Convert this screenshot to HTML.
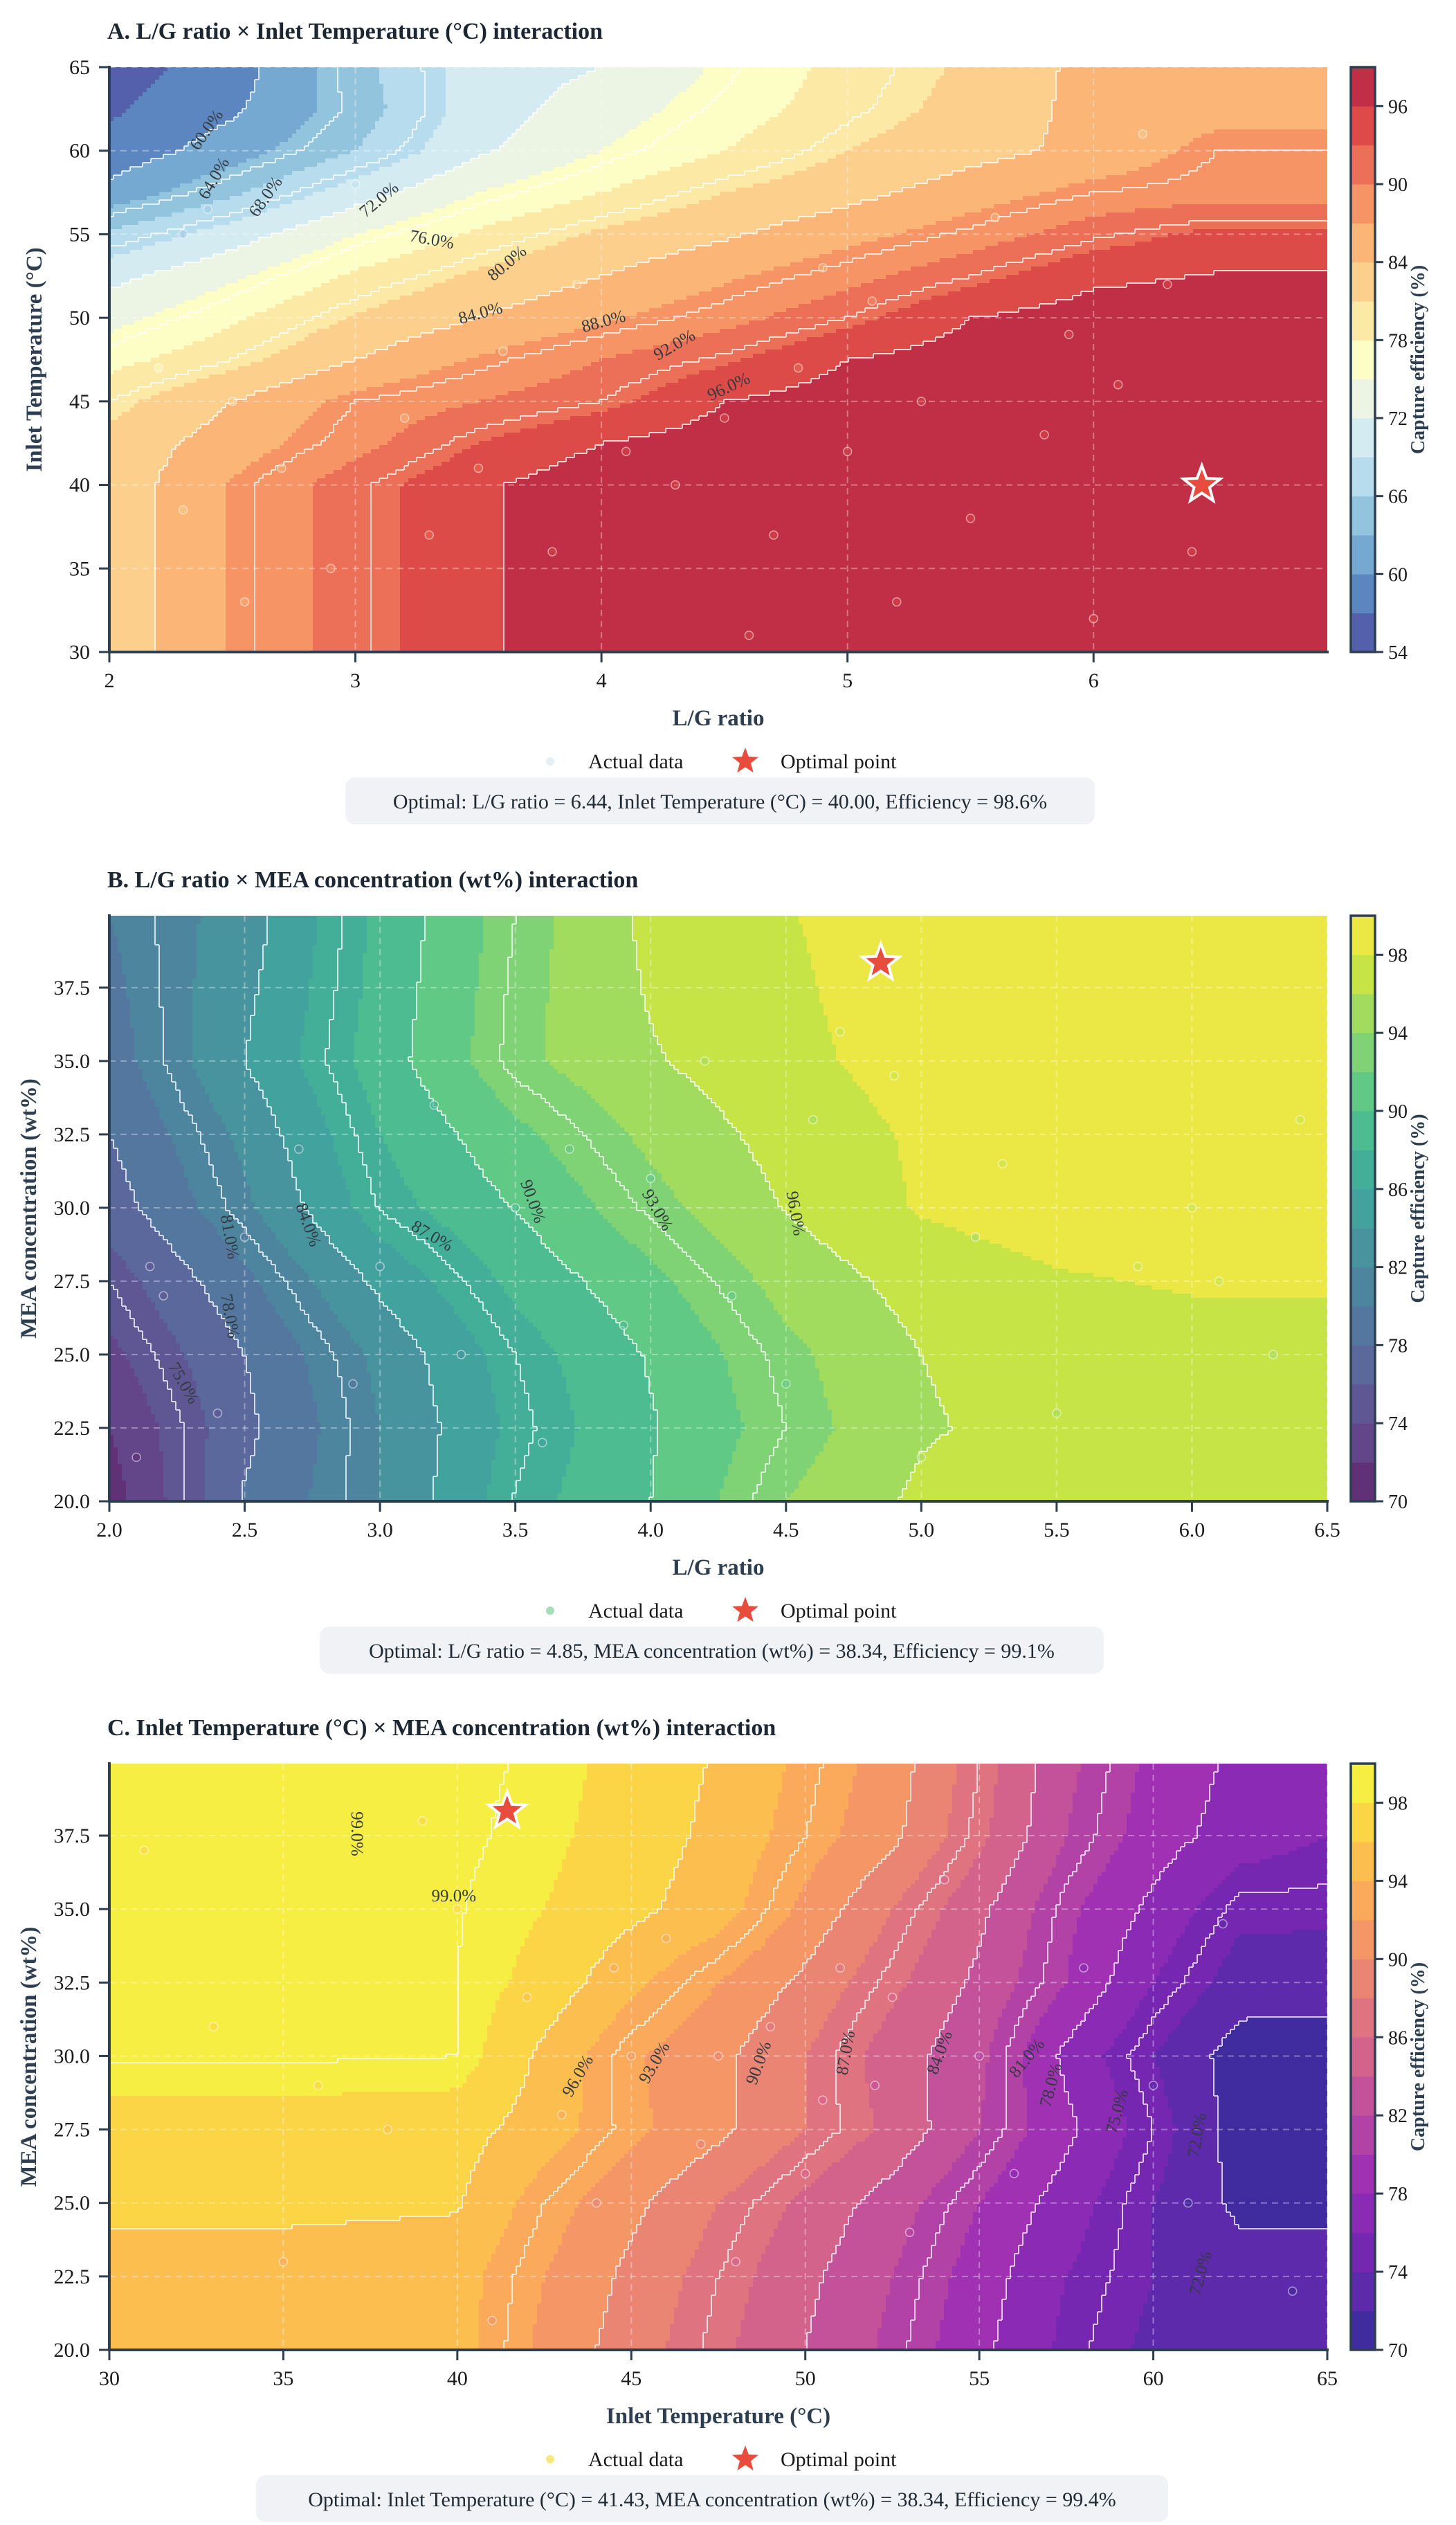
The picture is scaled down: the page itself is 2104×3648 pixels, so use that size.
<!DOCTYPE html>
<html><head><meta charset="utf-8"><title>Capture efficiency interactions</title>
<style>
html,body{margin:0;padding:0;background:#fff;}
svg{display:block;font-family:"Liberation Serif","DejaVu Serif",serif;}
</style></head>
<body>
<svg id="chart" xmlns="http://www.w3.org/2000/svg" width="2104" height="3648" viewBox="0 0 2104 3648"></svg>
<script>
// ---------- Panel A data: L/G ratio x Inlet Temperature ----------
const aX=[2,2.5,3,3.5,4,4.5,5,5.5,6,6.5,6.95];
const aY=[30,40,42.5,45,47.5,50,52.5,55,57.5,60,62.5,65];
const aZ=[
[82,87.3,91.5,95.5,98,98.5,98.6,98.6,98.6,98.6,98.6],
[82,87.3,91.5,95.5,98,98.5,98.6,98.6,98.6,98.6,98.6],
[82,85.5,89,93,96,97.5,98.3,98.6,98.6,98.6,98.6],
[80,84,88,90,92,96,97.5,98.3,98.6,98.6,98.6],
[77,80,84,87.3,90,92.5,96,97.5,98.2,98.6,98.6],
[74,77.5,81.3,84,86.5,89,92,96,97.5,98.2,98.4],
[71,74.5,78.5,81.5,84,86.5,89,92,95.3,96.2,96.3],
[66.5,70.5,75,78.5,81.5,83.6,86,88.5,91.5,93.8,93.8],
[61,65.5,70.5,75,78,81,83,85.5,88,88.8,88.8],
[58,61.5,66,71.5,75,78,81,83,84.8,88,88],
[56.5,59.5,64.5,70.5,73.5,76.5,79.5,82,85,86,86],
[55.5,58.5,65,70.5,72,75.5,79,81.5,85,85.5,85.5]];
const aXTicks=[2,3,4,5,6];
const aYTicks=[30,35,40,45,50,55,60,65];
const aCbTicks=[54,60,66,72,78,84,90,96];
const aOpt=[6.44,40.00];
const aPtX=[2.3,2.4,2.2,2.5,2.7,2.3,2.55,3.3,3.2,3.6,3.9,4.1,4.5,4.7,5.0,5.3,5.5,5.8,6.1,6.3,6.4,5.2,4.3,3.8,6.0,4.9,5.6,6.2,3.0,4.6,5.9,4.8,3.5,2.9,5.1];
const aPtY=[55,56.5,47,45,41,38.5,33,37,44,48,52,42,44,37,42,45,38,43,46,52,36,33,40,36,32,53,56,61,58,31,49,47,41,35,51];
const aLabVal=['60.0%','64.0%','68.0%','72.0%','76.0%','80.0%','84.0%','88.0%','92.0%','96.0%'];
const aLabX=[2.4,2.43,2.64,3.1,3.31,3.62,3.51,4.01,4.3,4.52];
const aLabY=[61.2,58.3,57.2,57,54.6,53.2,50.2,49.7,48.3,45.8];
const aLabR=[-55,-60,-55,-40,10,-40,-15,-15,-30,-25];
const aBand=['#5560ad','#5b86bf','#76a9d1','#93c4de','#b7dced','#d4ebf2','#ecf5e4','#fdfdc6','#fde9a6','#fcd08c','#fbb577','#f69466','#ec7057','#dc4b47','#c02f45'];

// ---------- Panel B data: L/G ratio x MEA concentration ----------
const bX=[2,2.5,3,3.5,4,4.5,5,5.5,6,6.5];
const bY=[20,22.5,25,27.5,30,32.5,35,37.5,39.95];
const bZ=[
[71,78.2,82,87.1,90,94,96.4,96.9,97.2,97.2],
[72,77.5,82,86.5,89.8,93,95.8,96.7,97,97],
[73.5,78,82.5,87,90.2,93.5,96,97,97.2,97.2],
[75,79.5,84.5,88.5,91.5,94.7,96.8,97.8,98.2,98.2],
[77,81.6,87.1,90.1,93.3,96.1,98.2,99,99,99],
[78,82.5,88,91.5,94.5,96.8,98.3,99,99,99],
[79,84,89,93.5,95.8,97.5,98.8,99.2,99.2,99.2],
[79.5,83.5,88.7,93.3,96.2,97.7,99,99.2,99.2,99.2],
[80,83,88.5,93,96.5,97.9,99,99.2,99.2,99.2]];
const bXTicks=[2.0,2.5,3.0,3.5,4.0,4.5,5.0,5.5,6.0,6.5];
const bYTicks=[20,22.5,25,27.5,30,32.5,35,37.5];
const bCbTicks=[70,74,78,82,86,90,94,98];
const bOpt=[4.85,38.34];
const bPtX=[2.2,2.5,2.7,3.0,3.3,3.5,3.6,4.0,4.3,4.6,4.9,5.2,5.8,6.0,6.3,5.0,4.2,2.4,2.9,3.2,5.5,6.4,4.5,3.9,2.1,2.15,3.7,4.7,5.3,6.1];
const bPtY=[27,29,32,28,25,30,22,31,27,33,34.5,29,28,30,25,21.5,35,23,24,33.5,23,33,24,26,21.5,28,32,36,31.5,27.5];
const bLabVal=['75.0%','78.0%','81.0%','84.0%','87.0%','90.0%','93.0%','96.0%'];
const bLabX=[2.27,2.44,2.44,2.73,3.19,3.56,4.02,4.53];
const bLabY=[24.0,26.3,29.0,29.4,29.0,30.2,29.9,29.8];
const bLabR=[60,80,80,70,30,70,60,80];

// ---------- Panel C data: Inlet Temperature x MEA concentration ----------
const cX=[30,35,40,42.5,45,47.5,50,52.5,55,57.5,60,62.5,65];
const cY=[20,22.5,25,27.5,30,32.5,35,37.5,39.95];
const cZ=[
[95,95,94.8,91.5,89,86.5,84,81.5,78.5,75.5,73.5,72.8,72.8],
[95,95,94.8,92,89.5,87,84.5,82,79,76,74,73,73],
[96.5,96.5,96.2,93,90.5,88,85.5,83,80,77,74,71.5,71.5],
[97,97,96.8,95,92.5,90.5,88,85.5,82,78.5,75,71,71],
[99.2,99.2,99,95.5,92.3,90.5,88,85,82.5,77.5,74,71,71],
[99.2,99.2,99,97.3,94.5,92,89.5,86.5,83.5,80,76,73,72.8],
[99.3,99.3,99.1,98,96.5,95,91.5,88,84.5,80.5,77.5,74.5,74.5],
[99.6,99.5,99.3,98.5,97,95.5,93,90.5,86.5,82,79,77,76],
[99.6,99.5,99.3,98.8,97.2,95.8,93.5,91,87,82.5,79.5,77.5,76.5]];
const cXTicks=[30,35,40,45,50,55,60,65];
const cYTicks=[20,22.5,25,27.5,30,32.5,35,37.5];
const cCbTicks=[70,74,78,82,86,90,94,98];
const cOpt=[41.43,38.34];
const cPtX=[31,33,36,38,40,42,43,44,45,46,47,48,49,50,51,52,53,55,56,58,60,62,61,64,35,41,54,44.5,47.5,50.5,39,52.5];
const cPtY=[37,31,29,27.5,35,32,28,25,30,34,27,23,31,26,33,29,24,30,26,33,29,34.5,25,22,23,21,36,33,30,28.5,38,32];
const cLabVal=['99.0%','99.0%','96.0%','93.0%','90.0%','87.0%','84.0%','81.0%','78.0%','75.0%','72.0%','72.0%'];
const cLabX=[37.07,39.9,43.5,45.7,48.7,51.2,53.9,56.4,57.1,59.0,61.3,61.4];
const cLabY=[37.56,35.4,29.3,29.75,29.75,30.1,30.1,29.9,29.0,28.1,27.3,22.6];
const cLabR=[90,0,-60,-60,-70,-80,-70,-50,-75,-75,-80,-75];

// ---------- colormap stops (style) ----------
const viridisStops=['#440154','#482475','#414487','#355f8d','#2a788e','#21918c','#22a884','#44bf70','#7ad151','#bddf26','#fde725'];
const plasmaStops=['#0d0887','#41049d','#6a00a8','#8f0da4','#b12a90','#cc4778','#e16462','#f2844b','#fca636','#fcce25','#f0f921'];

const NS='http://www.w3.org/2000/svg';
const svg=document.getElementById('chart');
function mk(tag,attrs,parent){const e=document.createElementNS(NS,tag);for(const k in attrs)e.setAttribute(k,attrs[k]);(parent||svg).appendChild(e);return e;}
function hex(h){return [parseInt(h.slice(1,3),16),parseInt(h.slice(3,5),16),parseInt(h.slice(5,7),16)];}
function cmap(stops,t,alpha){t=Math.max(0,Math.min(1,t));const n=stops.length-1;let i=Math.min(n-1,Math.floor(t*n));const f=t*n-i;const a=hex(stops[i]),b=hex(stops[i+1]);
  const c=a.map((v,k)=>v+(b[k]-v)*f).map(v=>Math.round(v*alpha+255*(1-alpha)));return 'rgb('+c.join(',')+')';}
function idx(arr,v){let i=0;while(i<arr.length-2&&v>arr[i+1])i++;return i;}
function interp(X,Y,Z,x,y){const i=idx(X,x),j=idx(Y,y);let tx=(x-X[i])/(X[i+1]-X[i]),ty=(y-Y[j])/(Y[j+1]-Y[j]);
  tx=Math.max(0,Math.min(1,tx));ty=Math.max(0,Math.min(1,ty));
  return Z[j][i]*(1-tx)*(1-ty)+Z[j][i+1]*tx*(1-ty)+Z[j+1][i]*(1-tx)*ty+Z[j+1][i+1]*tx*ty;}
function starPath(cx,cy,R){const r=R*0.42;let d='';for(let k=0;k<10;k++){const ang=-Math.PI/2+k*Math.PI/5;const rr=k%2?r:R;d+=(k?'L':'M')+(cx+rr*Math.cos(ang)).toFixed(1)+' '+(cy+rr*Math.sin(ang)).toFixed(1);}return d+'Z';}

const L=158,R=1918,CBX=1952,CBW=35;
const panels=[
 {id:'a',X:aX,Y:aY,Z:aZ,xmin:2,xmax:6.95,ymin:30,ymax:65,top:97,bottom:942,xt:aXTicks,yt:aYTicks,xfmt:v=>String(v),yfmt:v=>String(v),
  f0:54,fstep:3,nb:15,colors:aBand,l0:60,lstep:4,lmax:96,cbt:aCbTicks,opt:aOpt,px:aPtX,py:aPtY,lv:aLabVal,lx:aLabX,ly:aLabY,lr:aLabR,
  title:'A. L/G ratio × Inlet Temperature (°C) interaction',xl:'L/G ratio',yl:'Inlet Temperature (°C)',
  info:'Optimal: L/G ratio = 6.44, Inlet Temperature (°C) = 40.00, Efficiency = 98.6%',bx:499,bw:1083,leg:'#dcebf2',ptAlpha:0.45},
 {id:'b',X:bX,Y:bY,Z:bZ,xmin:2,xmax:6.5,ymin:20,ymax:39.95,top:1323,bottom:2169,xt:bXTicks,yt:bYTicks,xfmt:v=>v.toFixed(1),yfmt:v=>v.toFixed(1),
  f0:70,fstep:2,nb:15,stops:viridisStops,l0:75,lstep:3,lmax:96,cbt:bCbTicks,opt:bOpt,px:bPtX,py:bPtY,lv:bLabVal,lx:bLabX,ly:bLabY,lr:bLabR,
  title:'B. L/G ratio × MEA concentration (wt%) interaction',xl:'L/G ratio',yl:'MEA concentration (wt%)',
  info:'Optimal: L/G ratio = 4.85, MEA concentration (wt%) = 38.34, Efficiency = 99.1%',bx:462,bw:1133,leg:'#8fd6a6',ptAlpha:0.6},
 {id:'c',X:cX,Y:cY,Z:cZ,xmin:30,xmax:65,ymin:20,ymax:39.95,top:2548,bottom:3395,xt:cXTicks,yt:cYTicks,xfmt:v=>String(v),yfmt:v=>v.toFixed(1),
  f0:70,fstep:2,nb:15,stops:plasmaStops,l0:72,lstep:3,lmax:99,cbt:cCbTicks,opt:cOpt,px:cPtX,py:cPtY,lv:cLabVal,lx:cLabX,ly:cLabY,lr:cLabR,
  title:'C. Inlet Temperature (°C) × MEA concentration (wt%) interaction',xl:'Inlet Temperature (°C)',yl:'MEA concentration (wt%)',
  info:'Optimal: Inlet Temperature (°C) = 41.43, MEA concentration (wt%) = 38.34, Efficiency = 99.4%',bx:370,bw:1318,leg:'#f4e35a',ptAlpha:0.6}
];

panels.forEach(p=>{
  const T=p.top,B=p.bottom,W=R-L,H=B-T;
  const sx=v=>L+(v-p.xmin)/(p.xmax-p.xmin)*W;
  const sy=v=>B-(v-p.ymin)/(p.ymax-p.ymin)*H;
  const bandColor=k=>p.colors?p.colors[k]:cmap(p.stops,(k+0.5)/p.nb,0.85);
  const fmax=p.f0+p.fstep*p.nb;
  const g=mk('g',{});
  
  
  const title=mk('text',{x:L-3,y:T-41,'font-size':34,'font-weight':'bold',fill:'#1c2733'},g);
  
  
  title.textContent=p.title;
  const defs=mk('defs',{},g);
  const cp=mk('clipPath',{id:'clip-'+p.id},defs);
  mk('rect',{x:L,y:T,width:W,height:H},cp);
  const plot=mk('g',{'clip-path':'url(#clip-'+p.id+')'},g);
  
  
  const cs=6,cols=Math.ceil(W/cs),rows=Math.ceil(H/cs);
  const band=[],cls=[];
  for(let r=0;r<rows;r++){band.push([]);cls.push([]);
    const yv=p.ymax-(r+0.5)*cs/H*(p.ymax-p.ymin);
    for(let c=0;c<cols;c++){const xv=p.xmin+(c+0.5)*cs/W*(p.xmax-p.xmin);
      const z=interp(p.X,p.Y,p.Z,xv,yv);
      band[r].push(Math.max(0,Math.min(p.nb-1,Math.floor((z-p.f0)/p.fstep))));
      const nl=Math.round((p.lmax-p.l0)/p.lstep)+1;
      cls[r].push(Math.max(0,Math.min(nl,Math.floor((z-p.l0)/p.lstep)+1)));}}
  for(let r=0;r<rows;r++){let c=0;while(c<cols){const k=band[r][c];let e=c;while(e+1<cols&&band[r][e+1]===k)e++;
      const cell=mk('rect',{x:L+c*cs,y:T+r*cs,width:(e-c+1)*cs+0.6,height:cs+0.6,fill:bandColor(k)},plot);
      
      
      c=e+1;}}
  let d='';
  for(let r=0;r<rows;r++)for(let c=0;c<cols;c++){
    if(c+1<cols&&cls[r][c]!==cls[r][c+1]){const x=L+(c+1)*cs;d+='M'+x+' '+(T+r*cs)+'V'+(T+(r+1)*cs);}
    if(r+1<rows&&cls[r][c]!==cls[r+1][c]){const y=T+(r+1)*cs;d+='M'+(L+c*cs)+' '+y+'H'+(L+(c+1)*cs);}}
  const cl=mk('path',{d:d,stroke:'#ffffff','stroke-opacity':0.75,'stroke-width':2,fill:'none'},plot);
  
  
  p.xt.forEach(v=>{const gl=mk('line',{x1:sx(v),x2:sx(v),y1:T,y2:B,stroke:'#ffffff','stroke-opacity':0.35,'stroke-width':2,'stroke-dasharray':'9 7'},plot);
    
    });
  p.yt.forEach(v=>{const gl=mk('line',{x1:L,x2:R,y1:sy(v),y2:sy(v),stroke:'#ffffff','stroke-opacity':0.35,'stroke-width':2,'stroke-dasharray':'9 7'},plot);
    
    });
  p.px.forEach((xv,i)=>{const z=interp(p.X,p.Y,p.Z,xv,p.py[i]);const k=Math.max(0,Math.min(p.nb-1,Math.floor((z-p.f0)/p.fstep)-1));
    const pt=mk('circle',{cx:sx(xv),cy:sy(p.py[i]),r:6,fill:bandColor(k),'fill-opacity':p.ptAlpha,stroke:'#ffffff','stroke-opacity':0.5,'stroke-width':1.5},plot);
    
    });
  p.lv.forEach((t,i)=>{const x=sx(p.lx[i]),y=sy(p.ly[i]);
    const lb=mk('text',{x:x,y:y,'font-size':25,fill:'#333a40','text-anchor':'middle','dominant-baseline':'middle',transform:'rotate('+p.lr[i]+' '+x+' '+y+')'},plot);
    
    
    lb.textContent=t;});
  const st=mk('path',{d:starPath(sx(p.opt[0]),sy(p.opt[1]),28),fill:'#e74c3c',stroke:'#ffffff','stroke-width':4,'stroke-linejoin':'miter'},g);
  
  
  const sp=mk('path',{d:'M'+L+' '+(T-2)+'V'+B+'H'+(R+2),stroke:'#2c3e50','stroke-width':4,fill:'none'},g);
  
  
  p.xt.forEach(v=>{const x=sx(v);
    const tk=mk('line',{x1:x,x2:x,y1:B,y2:B+15,stroke:'#2c3e50','stroke-width':3},g);
    
    
    const tl=mk('text',{x:x,y:B+51,'font-size':30,'text-anchor':'middle',fill:'#1a1a1a'},g);
    
    
    tl.textContent=p.xfmt(v);});
  p.yt.forEach(v=>{const y=sy(v);
    const tk=mk('line',{x1:L-15,x2:L,y1:y,y2:y,stroke:'#2c3e50','stroke-width':3},g);
    
    
    const tl=mk('text',{x:L-28,y:y+10,'font-size':30,'text-anchor':'end',fill:'#1a1a1a'},g);
    
    
    tl.textContent=p.yfmt(v);});
  const xl=mk('text',{x:(L+R)/2,y:B+106,'font-size':33,'font-weight':'bold','text-anchor':'middle',fill:'#2c3e50'},g);
  
  
  xl.textContent=p.xl;
  const yx=p.id==='a'?60:52,yc=(T+B)/2;
  const yl=mk('text',{x:yx,y:yc,'font-size':33,'font-weight':'bold','text-anchor':'middle',fill:'#2c3e50',transform:'rotate(-90 '+yx+' '+yc+')'},g);
  
  
  yl.textContent=p.yl;
  const cb=mk('g',{},g);
  
  
  const cby=v=>B-(v-p.f0)/(fmax-p.f0)*H;
  for(let k=0;k<p.nb;k++){const sw=mk('rect',{x:CBX,y:cby(p.f0+(k+1)*p.fstep),width:CBW,height:cby(p.f0+k*p.fstep)-cby(p.f0+(k+1)*p.fstep)+0.5,fill:bandColor(k)},cb);
    
    }
  const cbo=mk('rect',{x:CBX,y:T,width:CBW,height:H,fill:'none',stroke:'#2c3e50','stroke-width':3.5},cb);
  
  
  p.cbt.forEach(v=>{const y=cby(v);
    const tk=mk('line',{x1:CBX+CBW,x2:CBX+CBW+12,y1:y,y2:y,stroke:'#2c3e50','stroke-width':3},cb);
    
    
    const tl=mk('text',{x:CBX+CBW+19,y:y+10,'font-size':28,fill:'#1a1a1a'},cb);
    
    
    tl.textContent=String(v);});
  const cbl=mk('text',{x:2058,y:yc,'font-size':28,'font-weight':'bold','text-anchor':'middle',fill:'#2c3e50',transform:'rotate(-90 2058 '+yc+')'},cb);
  
  
  cbl.textContent='Capture efficiency (%)';
  const ly=B+158;
  const lg=mk('g',{},g);
  
  
  const lm=mk('circle',{cx:795,cy:ly,r:6,fill:p.leg,'fill-opacity':0.8},lg);
  
  
  const lt=mk('text',{x:850,y:ly+10,'font-size':30,fill:'#1a1a1a'},lg);
  
  
  lt.textContent='Actual data';
  const ls=mk('path',{d:starPath(1077,ly,20),fill:'#e74c3c'},lg);
  
  
  const lt2=mk('text',{x:1128,y:ly+10,'font-size':30,fill:'#1a1a1a'},lg);
  
  
  lt2.textContent='Optimal point';
  const by=B+181;
  const ib=mk('rect',{x:p.bx,y:by,width:p.bw,height:68,rx:14,fill:'#eef1f4','fill-opacity':0.9},g);
  
  
  const it=mk('text',{x:p.bx+p.bw/2,y:by+45,'font-size':30,'text-anchor':'middle',fill:'#1f2a35'},g);
  
  
  it.textContent=p.info;
});
</script>
</body></html>
